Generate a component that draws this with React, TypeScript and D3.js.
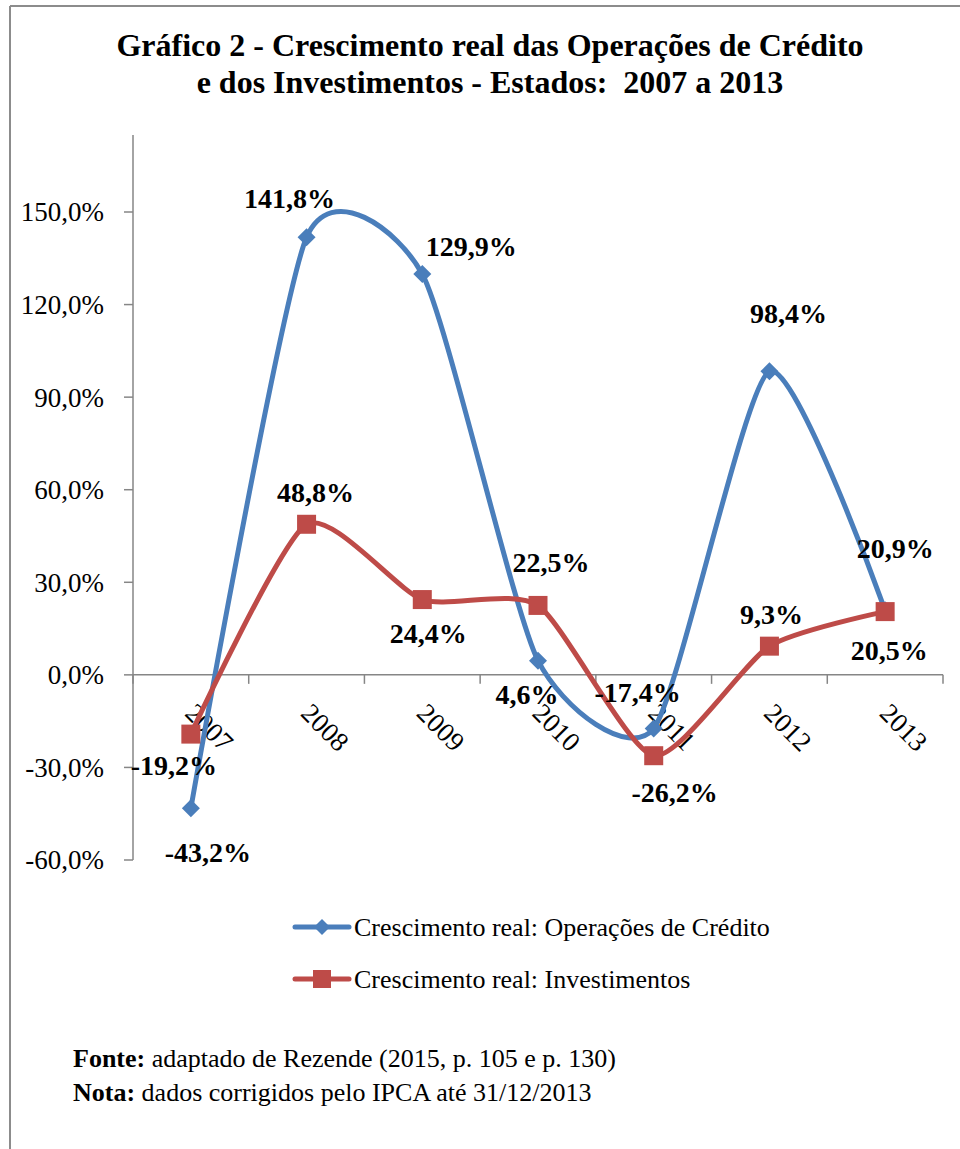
import React from 'react';
import * as d3 from 'd3';

// Categories and series values (real growth, %)
const years = ['2007', '2008', '2009', '2010', '2011', '2012', '2013'];
const credito = [-43.2, 141.8, 129.9, 4.6, -17.4, 98.4, 20.9];
const investimentos = [-19.2, 48.8, 24.4, 22.5, -26.2, 9.3, 20.5];
const yTicks = [-60, -30, 0, 30, 60, 90, 120, 150];

const seriesNames = [
  'Crescimento real: Operações de Crédito',
  'Crescimento real: Investimentos',
];

// Label placement offsets (dx, dy from each point), one pair per point
const creditoLabelOffsets: [number, number][] = [
  [17, 54], [-17, -29], [49, -18], [-11, 43], [-16, -27], [19, -48], [10, -52],
];
const investLabelOffsets: [number, number][] = [
  [-17, 41], [9, -22], [6, 43], [13, -33], [21, 46], [2, -22], [4, 48],
];

const BLUE = '#4A7EBB';
const RED = '#BE4B48';
const AXIS = '#868686';
const FONT = '"Liberation Serif", "Times New Roman", serif';

const W = 960;
const H = 1149;

const fmt = (v: number) => v.toFixed(1).replace('.', ',') + '%';

export default function App() {
  const x = d3.scaleBand<string>().domain(years).range([133, 943]);
  const y = d3.scaleLinear().domain([-60, 150]).range([860, 212]);
  const cx = (i: number) => (x(years[i]) as number) + x.bandwidth() / 2;
  const axisTop = 135;

  // smoothed series line
  const line = d3
    .line<number>()
    .x((_, i) => cx(i))
    .y((d) => y(d))
    .curve(d3.curveCardinal.tension(0.36));

  const diamond = (px: number, py: number, r: number) =>
    `M${px},${py - r}L${px + r},${py}L${px},${py + r}L${px - r},${py}Z`;

  const boundaries = d3.range(years.length + 1).map((i) => 133 + i * x.bandwidth());

  return (
    <svg width={W} height={H} style={{ position: 'absolute', left: 0, top: 0, background: '#fff' }}>
      {/* frame */}
      <line x1={10} y1={6} x2={W} y2={6} stroke="#8c8c8c" strokeWidth={2} />
      <line x1={10} y1={6} x2={10} y2={H} stroke="#8c8c8c" strokeWidth={2} />

      {/* title */}
      <g fontFamily={FONT} fontWeight="bold" fontSize={32} textAnchor="middle" fill="#000">
        <text x={490} y={56} style={{ whiteSpace: 'pre' }}>
          Gráfico 2 - Crescimento real das Operações de Crédito
        </text>
        <text x={490} y={93} style={{ whiteSpace: 'pre' }}>
          {'e dos Investimentos - Estados:  2007 a 2013'}
        </text>
      </g>

      {/* y axis */}
      <line x1={133} y1={axisTop} x2={133} y2={y(-60)} stroke={AXIS} strokeWidth={1.5} />
      {yTicks.map((t) => (
        <g key={t}>
          <line x1={124} x2={133} y1={y(t)} y2={y(t)} stroke={AXIS} strokeWidth={1.5} />
          <text
            x={104}
            y={y(t)}
            dy="0.35em"
            textAnchor="end"
            fontFamily={FONT}
            fontSize={27}
            fill="#000"
          >
            {fmt(t)}
          </text>
        </g>
      ))}

      {/* x axis at zero */}
      <line x1={133} x2={943} y1={y(0)} y2={y(0)} stroke={AXIS} strokeWidth={1.5} />
      {boundaries.map((bx, i) => (
        <line key={i} x1={bx} x2={bx} y1={y(0)} y2={y(0) + 9} stroke={AXIS} strokeWidth={1.5} />
      ))}
      {years.map((yr, i) => (
        <text
          key={yr}
          transform={`translate(${cx(i) - 7},${y(0) + 40}) rotate(45)`}
          fontFamily={FONT}
          fontSize={27}
          fill="#000"
        >
          {yr}
        </text>
      ))}

      {/* series lines and markers */}
      <path d={line(credito) || ''} fill="none" stroke={BLUE} strokeWidth={5} strokeLinejoin="round" strokeLinecap="round" />
      {credito.map((v, i) => (
        <path key={i} d={diamond(cx(i), y(v), 9)} fill={BLUE} />
      ))}
      <path d={line(investimentos) || ''} fill="none" stroke={RED} strokeWidth={5} strokeLinejoin="round" strokeLinecap="round" />
      {investimentos.map((v, i) => (
        <rect key={i} x={cx(i) - 9.5} y={y(v) - 9.5} width={19} height={19} fill={RED} />
      ))}

      {/* data labels */}
      <g fontFamily={FONT} fontWeight="bold" fontSize={28} textAnchor="middle" fill="#000">
        {credito.map((v, i) => (
          <text key={'c' + i} x={cx(i) + creditoLabelOffsets[i][0]} y={y(v) + creditoLabelOffsets[i][1]}>
            {fmt(v)}
          </text>
        ))}
        {investimentos.map((v, i) => (
          <text key={'v' + i} x={cx(i) + investLabelOffsets[i][0]} y={y(v) + investLabelOffsets[i][1]}>
            {fmt(v)}
          </text>
        ))}
      </g>

      {/* legend */}
      {seriesNames.map((name, i) => {
        const ly = 927 + i * 52;
        const color = i === 0 ? BLUE : RED;
        return (
          <g key={name}>
            <line x1={295} x2={349} y1={ly} y2={ly} stroke={color} strokeWidth={5} strokeLinecap="round" />
            {i === 0 ? (
              <path d={diamond(322, ly, 8)} fill={color} />
            ) : (
              <rect x={313} y={ly - 9} width={18} height={18} fill={color} />
            )}
            <text x={354} y={ly} dy="0.35em" fontFamily={FONT} fontSize={26} fill="#000">
              {name}
            </text>
          </g>
        );
      })}

      {/* source and note */}
      <g fontFamily={FONT} fontSize={26} fill="#000">
        <text x={73} y={1067}>
          <tspan fontWeight="bold">Fonte:</tspan> adaptado de Rezende (2015, p. 105 e p. 130)
        </text>
        <text x={73} y={1101}>
          <tspan fontWeight="bold">Nota:</tspan> dados corrigidos pelo IPCA até 31/12/2013
        </text>
      </g>
    </svg>
  );
}
